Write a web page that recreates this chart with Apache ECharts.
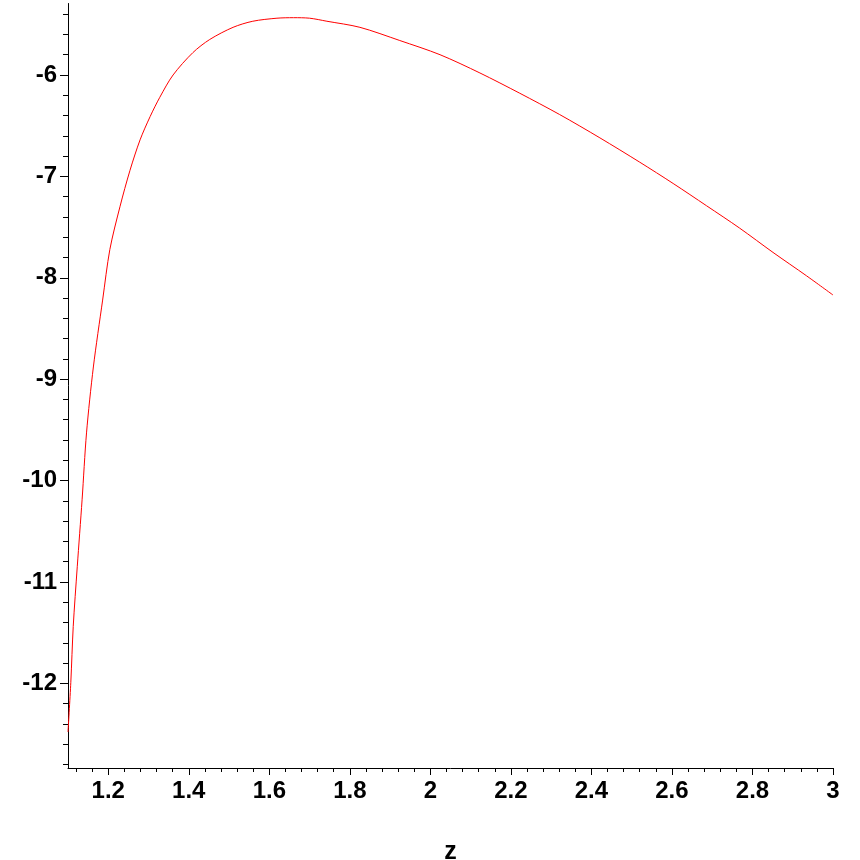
<!DOCTYPE html>
<html>
<head>
<meta charset="utf-8">
<script src="https://cdn.jsdelivr.net/npm/echarts@6/dist/echarts.min.js"></script>
<style>html,body{margin:0;padding:0;background:#fff;}#c{width:860px;height:860px;}</style>
</head>
<body>
<div id="c"></div>
<script>
const zValues = [1.100, 1.107, 1.113, 1.123, 1.135, 1.146, 1.163, 1.186, 1.204, 1.229, 1.254, 1.279, 1.304, 1.328, 1.361, 1.410, 1.452, 1.510, 1.559, 1.619, 1.660, 1.700, 1.743, 1.825, 1.924, 2.024, 2.123, 2.222, 2.321, 2.421, 2.520, 2.603, 2.686, 2.768, 2.851, 2.934, 3.000];
const fValues = [-12.48, -11.99, -11.44, -10.85, -10.19, -9.53, -8.88, -8.22, -7.72, -7.30, -6.94, -6.64, -6.41, -6.22, -6.00, -5.78, -5.65, -5.53, -5.47, -5.44, -5.435, -5.44, -5.47, -5.53, -5.66, -5.80, -5.98, -6.18, -6.39, -6.62, -6.86, -7.07, -7.29, -7.51, -7.75, -7.98, -8.17];
const xTickLabels = [1.2, 1.4, 1.6, 1.8, 2, 2.2, 2.4, 2.6, 2.8, 3];
const yTickLabels = [-12, -11, -10, -9, -8, -7, -6];
const xMinorTicks = [];
for (let i = 0; i <= 47; i++) xMinorTicks.push(+(1.12 + i * 0.04).toFixed(2));
const yMinorTicks = [];
for (let i = 0; i <= 37; i++) yMinorTicks.push(+(-12.8 + i * 0.2).toFixed(1));

const X_MIN = 1.1, X_MAX = 3.0, Y_MIN = -12.835, Y_MAX = -5.295;
const font = '"Liberation Sans", Arial, sans-serif';

const chart = echarts.init(document.getElementById('c'), null, {renderer: 'canvas'});
chart.setOption({
  animation: false,
  backgroundColor: '#ffffff',
  grid: {left: 68, right: 27, top: 3.5, bottom: 92, containLabel: false, outerBoundsMode: 'none'},
  xAxis: [
    {
      type: 'value', min: X_MIN, max: X_MAX,
      name: 'z', nameLocation: 'middle', nameGap: 72,
      nameTextStyle: {color: '#000', fontSize: 25, fontWeight: 'bold', fontFamily: font},
      axisLine: {show: true, onZero: false, lineStyle: {color: '#000', width: 1}},
      axisTick: {show: true, length: 7, customValues: xTickLabels, lineStyle: {color: '#000'}},
      axisLabel: {show: true, customValues: xTickLabels, margin: 11, color: '#000', fontSize: 24, fontWeight: 'bold', fontFamily: font,
        formatter: v => String(v)},
      splitLine: {show: false}
    },
    {
      type: 'value', min: X_MIN, max: X_MAX, position: 'bottom',
      axisLine: {show: false},
      axisTick: {show: true, length: 4, customValues: xMinorTicks, lineStyle: {color: '#000'}},
      axisLabel: {show: false},
      splitLine: {show: false}
    }
  ],
  yAxis: [
    {
      type: 'value', min: Y_MIN, max: Y_MAX,
      axisLine: {show: true, onZero: false, lineStyle: {color: '#000', width: 1}},
      axisTick: {show: true, length: 8, customValues: yTickLabels, lineStyle: {color: '#000'}},
      axisLabel: {show: true, customValues: yTickLabels, margin: 11, padding: [6, 0, 0, 0], color: '#000', fontSize: 24, fontWeight: 'bold', fontFamily: font,
        formatter: v => String(v)},
      splitLine: {show: false}
    },
    {
      type: 'value', min: Y_MIN, max: Y_MAX, position: 'left',
      axisLine: {show: false},
      axisTick: {show: true, length: 5, customValues: yMinorTicks, lineStyle: {color: '#000'}},
      axisLabel: {show: false},
      splitLine: {show: false}
    }
  ],
  series: [{
    type: 'line',
    xAxisIndex: 0, yAxisIndex: 0,
    data: zValues.map((z, i) => [z, fValues[i]]),
    showSymbol: false,
    smooth: 0.3,
    lineStyle: {color: '#ff0000', width: 1},
    clip: true
  }]
});
</script>
</body>
</html>
